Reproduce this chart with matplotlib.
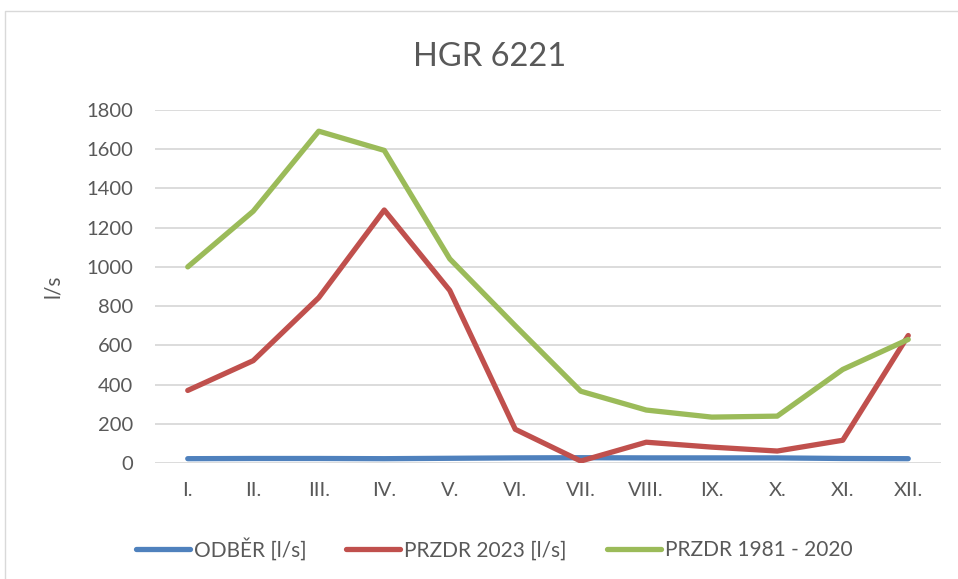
import matplotlib.pyplot as plt
from matplotlib.lines import Line2D

plt.rcParams['font.family'] = ['Lato', 'DejaVu Sans']

months = ["I.", "II.", "III.", "IV.", "V.", "VI.", "VII.", "VIII.", "IX.", "X.", "XI.", "XII."]
odber = [22, 23, 23, 22, 24, 26, 27, 26, 26, 26, 23, 22]
przdr_2023 = [370, 522, 843, 1290, 880, 172, 10, 106, 81, 61, 116, 650]
przdr_1981_2020 = [1000, 1284, 1692, 1594, 1041, 700, 366, 270, 234, 239, 477, 630]

text_color = "#595959"

fig = plt.figure(figsize=(9.58, 5.79), dpi=100)
# chart frame: only top and left edges fall inside the image
fig.lines.append(Line2D([5 / 958, 5 / 958, 1], [0, 1 - 11 / 579, 1 - 11 / 579],
                        transform=fig.transFigure, color="#d9d9d9", linewidth=1))
ax = fig.add_axes([155 / 958, 1 - 463 / 579, 786 / 958, 353 / 579])

x = range(len(months))
ax.plot(x, odber, color="#4F81BD", linewidth=3.8, solid_capstyle="round", label="ODBĚR [l/s]")
ax.plot(x, przdr_2023, color="#C0504D", linewidth=3.8, solid_capstyle="round", label="PRZDR 2023 [l/s]")
ax.plot(x, przdr_1981_2020, color="#9BBB59", linewidth=3.8, solid_capstyle="round", label="PRZDR 1981 - 2020")

ax.set_xlim(-0.5, len(months) - 0.5)
ax.set_ylim(0, 1800)
ax.set_yticks(range(0, 1801, 200))
ax.set_xticks(list(x))
ax.set_xticklabels(months)
ax.grid(axis="y", color="#d9d9d9", linewidth=1.3)
ax.set_axisbelow(True)
for s in ax.spines.values():
    s.set_visible(False)
ax.tick_params(length=0, labelsize=14.5, colors=text_color)
ax.tick_params(axis="y", pad=16)
ax.tick_params(axis="x", pad=14)
ax.set_ylabel("l/s", fontsize=15, color=text_color)
ax.yaxis.set_label_coords(-(155 - 63) / 786, 0.5)

fig.text(490 / 958, 1 - 57 / 579, "HGR 6221", fontsize=23.5, color=text_color, ha="center", va="center")

leg = fig.legend(loc="center", bbox_to_anchor=(494 / 958, 1 - 549 / 579), ncol=3, frameon=False,
                 fontsize=15, handlelength=2.6, handletextpad=0.2, columnspacing=1.9)
for t in leg.get_texts():
    t.set_color(text_color)

fig.savefig("out.png", dpi=100)
